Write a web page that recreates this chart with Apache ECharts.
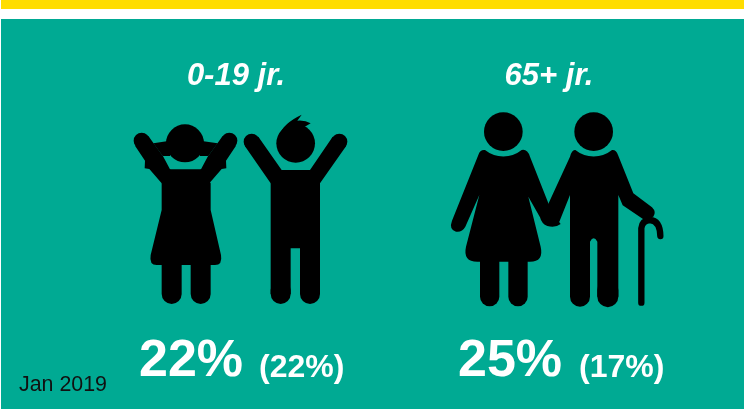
<!DOCTYPE html>
<html>
<head>
<meta charset="utf-8">
<script src="https://cdn.jsdelivr.net/npm/echarts@6/dist/echarts.min.js"></script>
<style>
html,body{margin:0;padding:0;background:#fff}
#main{width:744px;height:409px}
</style>
</head>
<body>
<div id="main"></div>
<script>
var groupLabels = ['0-19 jr.', '65+ jr.'];
var currentValues = [22, 25];
var previousValues = [22, 17];
var dateLabel = 'Jan 2019';

var teal = '#00aa93';
var yellow = '#ffdd00';
var fontName = '"Liberation Sans", Arial, sans-serif';

var myChart = echarts.init(document.getElementById('main'));

// graphic kent geen los 'path' type, dus elk pad als eigen shape registreren
var shapeCount = 0;
function pathType(d) {
    var name = 'iconPath' + (shapeCount++);
    echarts.graphic.registerShape(name, echarts.graphic.extendPath(d, {}));
    return name;
}
function fillPath(d) {
    return {type: pathType(d), style: {fill: '#000'}};
}
function limb(d, w) {
    return {type: pathType(d), style: {fill: null, stroke: '#000', lineWidth: w, lineCap: 'round', lineJoin: 'round'}};
}
function head(cx, cy, r) {
    return {type: 'circle', shape: {cx: cx, cy: cy, r: r}, style: {fill: '#000'}};
}
// pictogrammen getekend op 3x schaal, daarna terug geschaald
function icon(x, y, children) {
    return {type: 'group', x: x, y: y, scaleX: 1 / 3, scaleY: 1 / 3, children: children};
}

var kids = [
    // meisje
    head(65, 122, 24),
    head(328, 122, 24),
    fillPath('M45 137L75 182L74 205L88 207L125 250L145 262L170 225L150 208L130 170L85 108Z'),
    fillPath('M348 137L318 182L319 205L305 207L268 250L248 262L223 225L243 208L263 170L308 108Z'),
    fillPath('M125 250L150 208L245 208L272 250L272 330L303 465Q308 495 285 495L110 495Q87 495 92 465L125 330Z'),
    limb('M155 490L155 582', 60),
    limb('M242 490L242 582', 60),
    head(195, 130, 57),
    // staartjes
    fillPath('M100 130L150 122L150 168L128 168Z'),
    fillPath('M293 130L240 122L240 168L265 168Z'),
    // jongen
    head(395, 125, 24),
    head(658, 125, 24),
    fillPath('M375 139L452 250L470 262L500 225L485 210L415 110Z'),
    fillPath('M678 139L600 250L582 262L552 225L570 210L638 110Z'),
    fillPath('M452 250L485 210L570 210L600 250L600 582L540 582L540 445L512 445L512 582L452 582Z'),
    limb('M482 570L482 582', 60),
    limb('M570 570L570 582', 60),
    head(527, 130, 58),
    fillPath('M478 105Q490 70 545 44L532 62Q555 60 572 70L552 82L578 108Z')
];

var elderly = [
    // vrouw
    fillPath('M115 165Q120 148 135 150A88 88 0 0 0 245 150Q262 146 270 170L326 312L330 330L362 372Q345 385 322 378Q305 372 300 352L265 290L302 440Q312 485 270 485L112 485Q68 485 78 440L118 285L76 380Q66 398 48 395Q26 388 36 362Z'),
    limb('M149 480L149 590', 58),
    limb('M234 480L234 590', 58),
    head(190, 95, 58),
    // man
    fillPath('M390 170Q396 148 406 150A88 88 0 0 0 516 150Q528 148 534 165L580 280L636 322Q650 336 640 350L610 358L548 316L535 285L535 590L472 590L472 425Q461 405 450 425L450 590L390 590L390 285L358 365L325 375L322 318Z'),
    limb('M420 570L420 590', 60),
    limb('M503.5 570L503.5 590', 63),
    head(461, 95, 58),
    limb('M604 608L604 385Q606 362 630 360Q660 362 661 408', 19)
];

var textItems = [];
function addText(str, x, y, size, style, color, align) {
    textItems.push({
        type: 'text', x: x, y: y,
        style: {
            text: str, fill: color, font: style + ' ' + size + 'px ' + fontName,
            textAlign: align, textVerticalAlign: 'bottom'
        }
    });
}

var labelX = [236, 549];
var mainX = [139, 458];
var prevX = [259, 579];
for (var i = 0; i < groupLabels.length; i++) {
    addText(groupLabels[i], labelX[i], 92, 31, 'italic bold', '#fff', 'center');
    addText(currentValues[i] + '%', mainX[i], 388, 52, 'bold', '#fff', 'left');
    addText('(' + previousValues[i] + '%)', prevX[i], 384, 32, 'bold', '#fff', 'left');
}
addText(dateLabel, 19, 396, 21.4, 'normal', '#111', 'left');

var option = {
    animation: false,
    graphic: [
        {type: 'rect', shape: {x: 1, y: 0, width: 743, height: 9}, style: {fill: yellow}},
        {type: 'rect', shape: {x: 1, y: 19, width: 743, height: 390}, style: {fill: teal}},
        icon(120, 100, kids),
        icon(440, 100, elderly)
    ].concat(textItems)
};
myChart.setOption(option);
</script>
</body>
</html>
